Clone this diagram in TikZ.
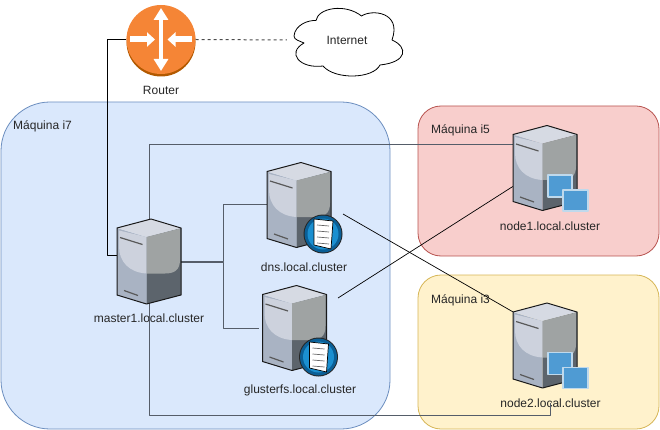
\documentclass[tikz,border=0pt]{standalone}
\usepackage{fontspec}
\setmainfont{Liberation Sans}
\usetikzlibrary{arrows.meta}
\definecolor{faceL}{HTML}{A9B3C3}
\definecolor{faceLL}{HTML}{CDD2DD}
\definecolor{faceT}{HTML}{D6DAE3}
\definecolor{faceR}{HTML}{9FA3A3}
\definecolor{faceD}{HTML}{5C646C}
\definecolor{wire}{HTML}{555D69}
\definecolor{vmblue}{HTML}{4F9BD3}
\definecolor{vmedge}{HTML}{BFD9EC}
\definecolor{ringdark}{HTML}{0B5F96}
\definecolor{ringlight}{HTML}{1B8FD0}
\tikzset{
	serverbox/.style={minimum width=64pt, minimum height=67pt, inner sep=0pt},
	caption/.style={font=\fontsize{12}{14}\selectfont, text=black!85, inner sep=0pt},
	region/.style={line width=0.8pt, rounded corners=#1},
	trunk/.style={wire, line width=1pt},
	link/.style={black, line width=0.7pt},
	pics/server/.style={code={
		\fill[faceL] (-32,-33.5) -- (-2.5,-24.5) -- (-2.5,42.5) -- (-32,33.5) -- cycle;
		\fill[faceD] (-2.5,-24.5) -- (32,-33.5) -- (32,33.5) -- (-2.5,42.5) -- cycle;
		\fill[faceT] (-32,-33.5) -- (2,-42.5) -- (32,-33.5) -- (-2.5,-24.5) -- cycle;
		\fill[faceLL] (-30,-31) -- (-2.5,-24.5) -- (-2.5,12) .. controls (-20,11) and (-30,0) .. (-30,-15) -- cycle;
		\fill[faceR] (-2.5,-24.5) -- (31,-33) -- (31,-2) .. controls (31,9) and (25,12) .. (16,12) -- (-2.5,12) -- cycle;
		\draw[black!90, line width=1pt, line join=round] (-32,-33.5) -- (2,-42.5) -- (32,-33.5) -- (32,33.5) -- (-2.5,42.5) -- (-32,33.5) -- cycle;
		\draw[black!65, line width=1.2pt] (-29,-24) -- (-6.5,-17) (-25,29) -- (-11,34);
	}},
	pics/docbadge/.style={code={
		\fill[black!85] (24,29) circle (19.5);
		\fill[ringdark] (24,29) circle (18.5);
		\fill[ringlight] (24,29) circle (15.5);
		\draw[black, fill=white, line width=0.7pt] (15,14) -- (34,16) -- (32,44) -- (15,40) -- cycle;
		\foreach \k in {0,1,2,3} \draw[black!60, line width=0.7pt] (18,20+6*\k) -- (30,21+6*\k);
	}},
	pics/vmbadge/.style={code={
		\draw[vmedge, fill=vmblue, line width=1.6pt] (3,7) rectangle (27,29);
		\draw[vmedge, fill=vmblue, line width=1.6pt] (18,22) rectangle (43,43);
	}}
}
\begin{document}
\begin{tikzpicture}[x=1pt, y=-1pt, line join=round, >=stealth]
	\useasboundingbox (0,0) rectangle (660,430);
	\draw[region=49pt, draw={rgb,255:red,108;green,142;blue,191}, fill={rgb,255:red,218;green,232;blue,252}] (1,102) rectangle (390,429);
	\draw[region=23pt, draw={rgb,255:red,184;green,84;blue,80}, fill={rgb,255:red,248;green,206;blue,204}] (418,106) rectangle (659,256);
	\draw[region=23pt, draw={rgb,255:red,214;green,182;blue,86}, fill={rgb,255:red,255;green,242;blue,204}] (418,275) rectangle (659,429);
	\node[caption, anchor=west] (labeli7) at (13,126) {Máquina i7};
	\node[caption, anchor=west] (labeli5) at (431,130) {Máquina i5};
	\node[caption, anchor=west] (labeli3) at (431,300) {Máquina i3};
	% servers and their captions
	\node[serverbox] (master) at (149,261.5) {};
	\node[serverbox] (dns) at (299,205) {};
	\node[serverbox] (gluster) at (294.5,328) {};
	\node[serverbox] (node1) at (545,168) {};
	\node[serverbox] (node2) at (545,345.5) {};
	\node[caption] (labelmaster) at (149,318) {master1.local.cluster};
	\node[caption] (labeldns) at (304,267) {dns.local.cluster};
	\node[caption] (labelgluster) at (300,390) {glusterfs.local.cluster};
	\node[caption] (labelnode1) at (550,226) {node1.local.cluster};
	\node[caption] (labelnode2) at (550.5,403) {node2.local.cluster};
	% router and cloud
	\fill[orange!70!black] (161,42) circle (34.5);
	\node[circle, fill={rgb,255:red,245;green,133;blue,54}, minimum size=69pt, inner sep=0pt] (router) at (161,39.5) {};
	\node[caption] (labelrouter) at (161,90) {Router};
	\draw[black, line width=0.8pt, fill=white] (294,36) .. controls (295,25) and (308,20) .. (316,20.5)
		.. controls (318,8) and (345,3) .. (361.5,16) .. controls (372,9) and (402,12) .. (392,40)
		.. controls (408,47) and (408,62) .. (380,65) .. controls (373,79) and (335,80) .. (323,66)
		.. controls (300,69) and (286,53) .. (304,43) .. controls (300,41) and (294,40) .. (294,36) -- cycle;
	\node[caption, minimum width=110pt, minimum height=70pt] (internet) at (347,40) {Internet};
	\draw[white, line width=4pt, {Triangle[length=12pt,width=14pt]}-{Triangle[length=12pt,width=14pt]}] (161,8) -- (161,71);
	\draw[white, line width=6pt, -{Triangle[length=8pt,width=14pt]}] (130,39.5) -- (155,39.5);
	\draw[white, line width=6pt, -{Triangle[length=8pt,width=14pt]}] (192,39.5) -- (167.5,39.5);
	% connectors
	\coordinate (dnsout) at (343,214);
	\coordinate (glusterout) at (338,298);
	\draw[black!70, line width=1pt, dash pattern=on 3pt off 3pt, shorten >=5pt] (router.east) -- (internet.west);
	\draw[link, line width=0.9pt] (router.west) -- (107,39.5) |- ([yshift=6.5pt]master.west);
	\draw[trunk] (master.center) |- ([yshift=23pt]node1.west);
	\draw[trunk] (master.center) -- (149,415) -| (labelnode2.center);
	\draw[trunk] ([yshift=0.5pt]master.east) -- (223,261) |- (dns.west);
	\draw[trunk, shorten >=3pt] ([yshift=-0.5pt]master.east) -- (223,262) |- (gluster.west);
	\draw[link] (dnsout) -- (node2.north west);
	\draw[link] (glusterout) -- ([yshift=-18.5pt]node1.west);
	% server drawings
	\foreach \s in {master,dns,gluster,node1,node2} \pic at (\s) {server};
	\foreach \s in {dns,gluster} \pic at (\s) {docbadge};
	\foreach \s in {node1,node2} \pic at (\s) {vmbadge};
\end{tikzpicture}
\end{document}
